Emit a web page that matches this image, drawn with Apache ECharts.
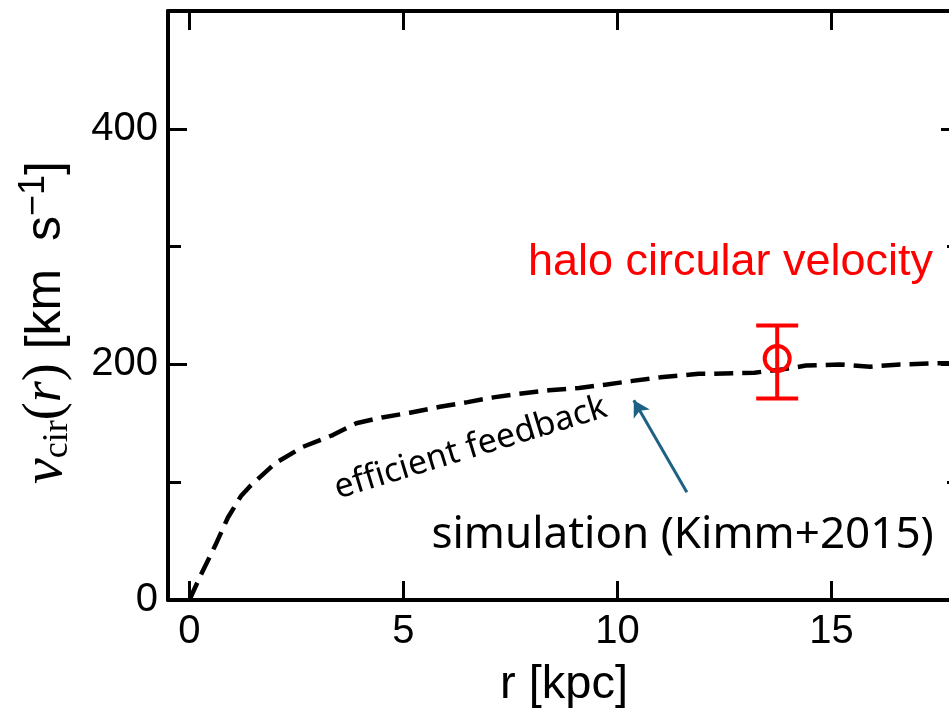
<!DOCTYPE html>
<html>
<head>
<meta charset="utf-8">
<script src="https://cdn.jsdelivr.net/npm/echarts@6/dist/echarts.min.js"></script>
<style>
  html, body { margin: 0; padding: 0; background: #ffffff; }
  #main { width: 949px; height: 715px; }
</style>
</head>
<body>
<div id="main"></div>
<script>
// Simulated circular velocity profile (efficient feedback run)
const radiusKpc = [0, 0.25, 0.6, 0.9, 1.2, 1.4, 2.0, 2.65, 3.35, 3.9, 4.5, 5.15, 5.85, 6.5, 7.1, 7.7, 8.4, 9.1, 9.75, 10.35, 11.0, 11.9, 12.2, 13.2, 13.9, 14.4, 15.2, 15.9, 16.6, 17.6, 17.95];
const vCircSim  = [0, 20, 46, 70, 88, 96, 116, 130, 140, 150, 155, 159, 164, 168, 172, 175, 178, 180, 183, 186, 189, 192, 192, 193, 196, 199, 200, 198, 200, 201, 201];

// Halo circular velocity estimate with asymmetric uncertainty
const haloR     = [13.73];
const haloV     = [205];
const haloVLow  = [171];
const haloVHigh = [233];

// Tick values
const xTickValues  = [0, 5, 10, 15];
const yLabelValues = [0, 200, 400];

// Annotation texts
const haloText  = 'halo circular velocity';
const simText   = 'simulation (Kimm+2015)';
const fbText    = 'efficient feedback';

const SANS = '"Liberation Sans", Arial, sans-serif';
const NOTO = '"Noto Sans", sans-serif';
const SERIF = '"Liberation Serif", "DejaVu Serif", serif';

const chart = echarts.init(document.getElementById('main'), null, { renderer: 'canvas' });

const spine = { show: true, onZero: false, lineStyle: { color: '#000', width: 4 } };
const tickStyle = { color: '#000', width: 3 };

function xAxisDef(pos, withLabels) {
  return {
    type: 'value', position: pos, min: -0.5, max: 18,
    axisLine: spine,
    axisTick: { show: true, inside: true, length: 19, customValues: xTickValues, lineStyle: tickStyle },
    axisLabel: withLabels
      ? { show: true, customValues: xTickValues, fontSize: 40, fontFamily: SANS, color: '#000', margin: 12 }
      : { show: false },
    splitLine: { show: false },
    name: withLabels ? 'r [kpc]' : '',
    nameLocation: 'middle', nameGap: 62,
    nameTextStyle: { fontSize: 47, fontFamily: SANS, color: '#000' }
  };
}

function yAxisDef(pos, withLabels) {
  return {
    type: 'value', position: pos, min: 0, max: 500, interval: 100,
    axisLine: spine,
    axisTick: { show: true, inside: true, length: 13, lineStyle: tickStyle },
    axisLabel: withLabels
      ? { show: true, customValues: yLabelValues, fontSize: 40, fontFamily: SANS, color: '#000', margin: 10 }
      : { show: false },
    splitLine: { show: false },
    name: withLabels ? '{v|v}{sub|cir}{p|(}{r|r}{p|)}{t| [km  s}{sup|−1}{t|]}' : '',
    nameLocation: 'middle', nameRotate: 90, nameGap: 92,
    nameTextStyle: {
      color: '#000',
      padding: [0, 34, 0, 0],
      rich: {
        v:   { fontFamily: SERIF, fontStyle: 'italic', fontSize: 58, lineHeight: 60 },
        sub: { fontFamily: SERIF, fontSize: 36, lineHeight: 34, verticalAlign: 'bottom' },
        p:   { fontFamily: SERIF, fontSize: 54, lineHeight: 60 },
        r:   { fontFamily: SERIF, fontStyle: 'italic', fontSize: 54, lineHeight: 60 },
        t:   { fontFamily: SANS, fontSize: 50, lineHeight: 60 },
        sup: { fontFamily: SANS, fontSize: 36, lineHeight: 34, verticalAlign: 'top' }
      }
    }
  };
}

// Long ticks at the labelled y values, on both sides
function yMajorTicks(pos) {
  return {
    type: 'value', position: pos, min: 0, max: 500, interval: 100,
    axisLine: { show: false, onZero: false },
    axisTick: { show: true, inside: true, length: 19, customValues: yLabelValues, lineStyle: tickStyle },
    axisLabel: { show: false },
    splitLine: { show: false }
  };
}

const simData = radiusKpc.map((r, i) => [r, vCircSim[i]]);
const haloData = haloR.map((r, i) => [r, haloV[i], haloVLow[i], haloVHigh[i]]);

const option = {
  backgroundColor: '#ffffff',
  animation: false,
  grid: { left: 168, top: 11, width: 792, height: 589, containLabel: false, outerBoundsMode: 'none' },
  xAxis: [xAxisDef('bottom', true), xAxisDef('top', false)],
  yAxis: [yAxisDef('left', true), yAxisDef('right', false), yMajorTicks('left'), yMajorTicks('right')],
  series: [
    {
      name: 'simulation',
      type: 'line',
      xAxisIndex: 0, yAxisIndex: 0,
      data: simData,
      symbol: 'none',
      smooth: false,
      lineStyle: { color: '#000', width: 4.5, type: [19, 9] },
      z: 2
    },
    {
      name: 'halo',
      type: 'custom',
      xAxisIndex: 0, yAxisIndex: 0,
      data: haloData,
      z: 5,
      renderItem: function (params, api) {
        const c = api.coord([api.value(0), api.value(1)]);
        const lo = api.coord([api.value(0), api.value(2)]);
        const hi = api.coord([api.value(0), api.value(3)]);
        const cap = 21;
        const st = { stroke: '#ff0000', lineWidth: 4, fill: null };
        return {
          type: 'group',
          children: [
            { type: 'line', shape: { x1: hi[0], y1: hi[1], x2: lo[0], y2: lo[1] }, style: st },
            { type: 'line', shape: { x1: hi[0] - cap, y1: hi[1], x2: hi[0] + cap, y2: hi[1] }, style: st },
            { type: 'line', shape: { x1: lo[0] - cap, y1: lo[1], x2: lo[0] + cap, y2: lo[1] }, style: st },
            { type: 'circle', shape: { cx: c[0], cy: c[1], r: 12.5 }, style: { stroke: '#ff0000', lineWidth: 4, fill: 'none' } }
          ]
        };
      }
    },
    {
      name: 'notes',
      type: 'scatter',
      xAxisIndex: 0, yAxisIndex: 0,
      symbolSize: 0,
      silent: true,
      z: 6,
      itemStyle: { opacity: 1 },
      data: [
        { value: [12.64, 286], label: { formatter: haloText, color: '#ff0000', fontFamily: SANS, fontSize: 45 } },
        { value: [11.52, 55], label: { formatter: simText, color: '#000000', fontFamily: NOTO, fontSize: 44 } },
        { value: [6.57, 129], label: { formatter: fbText, color: '#000000', fontFamily: NOTO, fontSize: 34, rotate: 17 } }
      ],
      label: { show: true, position: 'inside', align: 'center', verticalAlign: 'middle', opacity: 1 },
      markLine: {
        silent: true,
        symbol: ['none', 'arrow'],
        symbolSize: [14, 16],
        label: { show: false },
        lineStyle: { color: '#1d6285', width: 3, type: 'solid', opacity: 1 },
        data: [[ { coord: [11.62, 91.5] }, { coord: [10.38, 169.5] } ]]
      }
    }
  ]
};

chart.setOption(option);
</script>
</body>
</html>
